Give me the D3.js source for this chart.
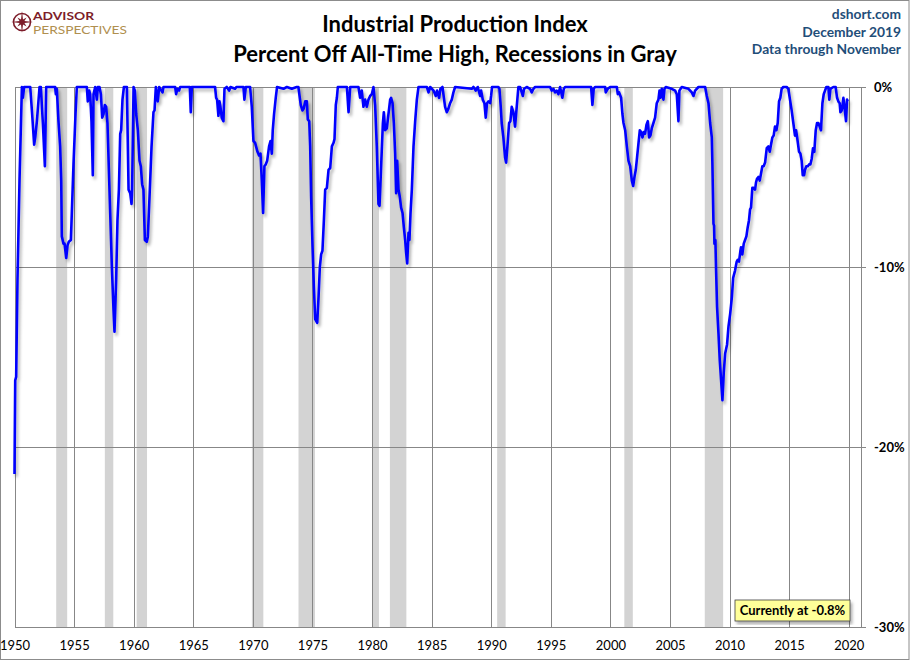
<!DOCTYPE html>
<html>
<head>
<meta charset="utf-8">
<script src="https://cdn.jsdelivr.net/npm/d3@7"></script>
<style>
  body { margin: 0; background: #fff; }
  svg { display: block; font-family: Lato, "Open Sans", sans-serif; }
</style>
</head>
<body>
<svg id="chart" width="910" height="661"></svg>
<script>
const svg = d3.select("#chart");

// plot box, in px
const LEFT = 14.5, RIGHT = 861.5, TOP = 87, BOTTOM = 627;
const GRID_COLOR = "#878787";
const LINE_COLOR = "#0000ff";

const titleLines = ["Industrial Production Index", "Percent Off All-Time High, Recessions in Gray"];
const sourceLines = ["dshort.com", "December 2019", "Data through November"];

const tickYears = [1950, 1955, 1960, 1965, 1970, 1975, 1980, 1985, 1990, 1995, 2000, 2005, 2010, 2015, 2020];
const tickPcts = [0, -10, -20, -30];

// NBER recessions (decimal years)
const recessionStarts = [1953.50, 1957.58, 1960.25, 1969.92, 1973.83, 1980.00, 1981.50, 1990.50, 2001.17, 2007.92];
const recessionEnds   = [1954.42, 1958.29, 1961.12, 1970.88, 1975.21, 1980.58, 1982.88, 1991.21, 2001.88, 2009.46];

// [decimal year, percent off all-time high]
const ipOffHigh = [
  [1950.00,-21.5],[1950.06,-16.3],[1950.14,-16.1],[1950.25,-10.7],[1950.42,-5.2],[1950.62,0],[1950.70,-0.6],[1950.81,0],
  [1951.32,0],[1951.48,-1.5],[1951.65,-3.2],[1951.74,-2.8],[1951.88,-1.9],[1952.10,0],[1952.21,0],[1952.38,-2.0],
  [1952.55,-4.4],[1952.66,0],[1953.41,0],[1953.47,-0.4],[1953.55,-0.1],[1953.69,-1.9],[1953.83,-3.3],[1953.92,-5.2],
  [1953.97,-8.3],[1954.11,-8.7],[1954.20,-8.7],[1954.34,-9.5],[1954.45,-8.8],[1954.56,-8.6],[1954.73,-8.5],[1954.81,-7.0],
  [1954.95,-4.3],[1955.12,-1.5],[1955.23,0],[1956.07,0],[1956.15,-0.8],[1956.27,-0.2],[1956.35,-0.4],[1956.46,-1.9],
  [1956.57,-4.9],[1956.63,-0.4],[1956.77,0],[1956.91,-0.7],[1956.99,0],[1957.13,0],[1957.25,-0.4],[1957.36,-1.7],
  [1957.47,-1.5],[1957.58,-1.0],[1957.69,-1.1],[1957.80,-2.0],[1958.03,-7.0],[1958.17,-10.0],[1958.31,-12.4],[1958.39,-13.6],
  [1958.53,-10.7],[1958.64,-7.4],[1958.76,-5.7],[1958.87,-2.6],[1958.95,-2.4],[1959.06,-0.7],[1959.18,0],[1959.43,0],
  [1959.57,-5.7],[1959.71,-5.9],[1959.82,-6.5],[1959.87,-5.7],[1959.99,0],[1960.10,-0.2],[1960.21,-1.5],[1960.35,-2.4],
  [1960.49,-4.1],[1960.60,-4.4],[1960.71,-5.4],[1960.82,-5.7],[1960.94,-8.5],[1961.10,-8.6],[1961.19,-8.3],[1961.33,-6.1],
  [1961.50,-3.3],[1961.66,-1.4],[1961.75,-1.3],[1961.86,0],[1962.02,-0.8],[1962.14,0],[1962.42,-0.3],[1962.50,0],
  [1963.48,0],[1963.56,-0.4],[1963.67,-0.1],[1963.81,-0.2],[1963.90,0],[1964.71,0],[1964.79,-1.4],[1964.88,0],
  [1966.83,0],[1966.92,-0.6],[1967.00,-0.7],[1967.11,-1.6],[1967.20,-0.8],[1967.28,-1.1],[1967.39,-1.7],[1967.53,-1.9],
  [1967.62,-0.1],[1967.81,0],[1968.01,-0.2],[1968.12,0],[1968.51,-0.1],[1968.62,0],[1969.21,0],[1969.29,-0.7],
  [1969.41,0],[1969.77,0],[1969.91,-1.1],[1970.05,-3.0],[1970.19,-3.1],[1970.39,-3.6],[1970.52,-3.8],[1970.64,-3.7],
  [1970.75,-5.2],[1970.86,-7.0],[1970.97,-4.4],[1971.08,-4.3],[1971.20,-4.1],[1971.36,-3.3],[1971.48,-3.0],[1971.59,-3.7],
  [1971.67,-2.4],[1971.78,-1.5],[1971.92,-0.6],[1972.03,0],[1972.57,-0.1],[1972.85,0],[1973.27,-0.1],[1973.68,0],
  [1973.82,0],[1974.02,-1.0],[1974.16,-1.3],[1974.27,-1.2],[1974.39,-0.8],[1974.53,-0.8],[1974.61,-1.8],[1974.73,-1.9],
  [1974.81,-3.3],[1974.89,-6.1],[1975.01,-8.9],[1975.12,-11.1],[1975.23,-12.9],[1975.40,-13.1],[1975.51,-11.7],[1975.62,-10.0],
  [1975.73,-9.3],[1975.84,-9.1],[1975.96,-7.4],[1976.07,-5.7],[1976.21,-5.6],[1976.35,-4.6],[1976.49,-4.5],[1976.63,-3.3],
  [1976.77,-3.1],[1976.85,-2.9],[1976.96,-1.0],[1977.05,-0.6],[1977.13,0],[1977.89,0],[1978.03,-1.4],[1978.17,0],
  [1978.86,0],[1979.00,-0.6],[1979.14,-0.2],[1979.28,-1.1],[1979.42,-0.7],[1979.56,-1.1],[1979.70,-0.7],[1979.84,-0.5],
  [1979.98,-0.4],[1980.12,0],[1980.26,-1.0],[1980.40,-3.3],[1980.54,-6.5],[1980.63,-6.6],[1980.77,-4.3],[1980.91,-2.0],
  [1980.99,-1.4],[1981.10,-2.4],[1981.24,-2.3],[1981.38,-1.5],[1981.52,-0.7],[1981.60,-0.6],[1981.72,-0.9],[1981.83,-2.0],
  [1981.94,-3.7],[1982.02,-5.9],[1982.11,-4.1],[1982.22,-5.7],[1982.33,-6.1],[1982.44,-6.7],[1982.56,-7.0],[1982.67,-7.8],
  [1982.78,-8.5],[1982.86,-9.2],[1982.95,-9.8],[1983.06,-8.1],[1983.14,-8.5],[1983.23,-7.0],[1983.34,-5.7],[1983.48,-3.3],
  [1983.62,-1.9],[1983.76,-0.7],[1983.90,0],[1984.60,0],[1984.74,-0.3],[1984.88,0],[1985.16,-0.2],[1985.35,-0.5],
  [1985.46,-0.2],[1985.63,-0.6],[1985.74,-0.1],[1985.91,0],[1986.13,-1.1],[1986.27,-1.4],[1986.41,-1.2],[1986.55,-0.9],
  [1986.69,-0.7],[1986.83,-0.3],[1986.97,0],[1988.37,-0.1],[1988.51,0],[1988.70,-0.2],[1988.87,0],[1989.07,-0.5],
  [1989.15,-0.2],[1989.29,-0.7],[1989.43,-0.9],[1989.54,-1.7],[1989.65,-0.9],[1989.77,-0.8],[1989.91,-0.9],[1989.99,-0.5],
  [1990.07,0],[1990.60,0],[1990.69,-0.1],[1990.80,-1.1],[1990.88,-2.0],[1991.02,-2.8],[1991.16,-3.9],[1991.25,-4.2],
  [1991.36,-3.3],[1991.50,-2.0],[1991.61,-1.9],[1991.72,-1.1],[1991.86,-1.4],[1992.00,-2.2],[1992.14,-1.1],[1992.28,0],
  [1992.42,0],[1992.56,-0.3],[1992.65,-0.5],[1992.76,-0.1],[1992.98,0],[1993.26,-0.1],[1993.40,-0.3],[1993.54,-0.1],
  [1993.68,0],[1994.94,0],[1995.08,-0.2],[1995.22,-0.1],[1995.36,-0.3],[1995.50,-0.2],[1995.64,-0.4],[1995.78,0],
  [1995.97,-0.6],[1996.09,-0.1],[1996.20,0],[1998.38,0],[1998.49,-1.0],[1998.60,-0.1],[1998.71,0],[1999.56,0],
  [1999.61,-0.3],[1999.78,-0.1],[1999.98,0],[2000.54,0],[2000.62,-0.4],[2000.73,-0.3],[2000.90,-0.6],[2001.01,-1.5],
  [2001.10,-2.0],[2001.24,-2.4],[2001.38,-3.3],[2001.52,-4.1],[2001.66,-4.4],[2001.80,-5.2],[2001.91,-5.5],[2002.02,-5.0],
  [2002.13,-4.6],[2002.24,-3.9],[2002.36,-3.1],[2002.47,-2.4],[2002.58,-2.5],[2002.69,-2.8],[2002.80,-2.5],[2002.91,-2.6],
  [2003.03,-2.1],[2003.14,-1.9],[2003.25,-2.8],[2003.36,-2.7],[2003.47,-2.3],[2003.61,-2.0],[2003.75,-1.7],[2003.89,-0.9],
  [2004.03,-0.7],[2004.12,-0.2],[2004.20,-0.6],[2004.31,-0.1],[2004.45,-0.7],[2004.54,-0.1],[2004.65,0],[2005.15,-0.1],
  [2005.43,-0.2],[2005.57,-0.4],[2005.71,-1.9],[2005.79,-0.2],[2005.99,0],[2006.55,-0.1],[2006.83,-0.3],[2006.97,-0.5],
  [2007.11,-0.2],[2007.39,0],[2007.95,0],[2008.09,-0.5],[2008.23,-0.9],[2008.37,-2.0],[2008.51,-2.8],[2008.56,-4.3],
  [2008.65,-7.6],[2008.70,-7.7],[2008.73,-8.7],[2008.81,-8.5],[2008.87,-10.2],[2008.95,-12.2],[2009.07,-13.7],[2009.18,-15.2],
  [2009.29,-16.3],[2009.40,-17.4],[2009.51,-15.9],[2009.63,-14.8],[2009.79,-14.3],[2009.91,-13.3],[2010.05,-12.6],[2010.19,-11.7],
  [2010.30,-10.6],[2010.46,-10.2],[2010.60,-9.7],[2010.68,-9.6],[2010.79,-9.7],[2010.91,-9.1],[2010.96,-8.9],[2011.07,-9.3],
  [2011.19,-8.7],[2011.30,-8.5],[2011.41,-8.3],[2011.52,-7.8],[2011.63,-7.4],[2011.72,-6.8],[2011.80,-6.7],[2011.91,-5.6],
  [2012.02,-5.6],[2012.14,-5.7],[2012.22,-5.3],[2012.30,-5.1],[2012.42,-5.0],[2012.53,-5.2],[2012.64,-4.8],[2012.75,-4.4],
  [2012.86,-4.4],[2012.98,-4.2],[2013.12,-3.4],[2013.26,-3.3],[2013.37,-3.6],[2013.48,-3.2],[2013.59,-2.8],[2013.70,-2.7],
  [2013.81,-2.2],[2013.93,-2.4],[2014.04,-2.0],[2014.15,-0.8],[2014.26,-0.6],[2014.37,-0.1],[2014.51,0],[2014.79,0],
  [2014.93,-0.1],[2015.07,-0.7],[2015.21,-1.3],[2015.35,-2.0],[2015.49,-2.7],[2015.58,-2.4],[2015.69,-2.9],[2015.83,-3.6],
  [2015.94,-3.7],[2016.05,-4.1],[2016.14,-4.9],[2016.25,-4.9],[2016.33,-4.6],[2016.44,-4.4],[2016.56,-4.4],[2016.67,-4.3],
  [2016.78,-4.3],[2016.89,-4.0],[2017.00,-3.4],[2017.11,-3.6],[2017.23,-2.4],[2017.34,-2.0],[2017.45,-2.0],[2017.56,-2.2],
  [2017.67,-2.4],[2017.79,-0.9],[2017.90,-0.4],[2018.01,-0.2],[2018.12,0],[2018.29,0],[2018.37,-0.7],[2018.46,-0.1],
  [2018.71,0],[2018.90,0],[2019.02,-0.6],[2019.13,-0.8],[2019.24,-0.9],[2019.30,-1.4],[2019.41,-1.3],[2019.46,-1.1],
  [2019.55,-0.6],[2019.63,-1.0],[2019.69,-1.4],[2019.77,-1.9],[2019.86,-0.7],[2019.91,-0.8]
];

let xscale = d3.scaleLinear()
            .domain([1950, 2021.07])
            .range([LEFT, RIGHT]);

let yscale = d3.scaleLinear()
            .domain([-30, 0])
            .range([BOTTOM, TOP]);


function main() {
    drawDefs();
    drawFrame();
    drawRecessions();
    drawGrid();
    drawLine();
    drawTitles();
    drawLogo();
    drawNote();
}

function drawDefs() {
    const defs = svg.append("defs");
    const f = defs.append("filter").attr("id", "shadow")
        .attr("x", "-5%").attr("y", "-5%").attr("width", "115%").attr("height", "120%");
    f.append("feDropShadow")
        .attr("dx", 2).attr("dy", 3)
        .attr("stdDeviation", 1.6)
        .attr("flood-color", "#000")
        .attr("flood-opacity", 0.3);
}

function drawFrame() {
    svg.append("rect")
        .attr("x", 0.5).attr("y", 0.5)
        .attr("width", 908.5).attr("height", 659)
        .attr("fill", "#fff")
        .attr("stroke", "#8c8c8c");
}

function drawRecessions() {
    const bands = d3.zip(recessionStarts, recessionEnds);
    svg.selectAll(".recession").data(bands).join("rect")
        .attr("class", "recession")
        .attr("x", d => xscale(d[0]))
        .attr("width", d => xscale(d[1]) - xscale(d[0]))
        .attr("y", TOP)
        .attr("height", BOTTOM - TOP)
        .attr("fill", "#d3d3d3");
}

function drawGrid() {
    // vertical gridlines + year labels
    const xAxis = d3.axisBottom(xscale)
        .tickValues(tickYears)
        .tickSize(-(BOTTOM - TOP))
        .tickPadding(14)
        .tickFormat(d3.format("d"));
    svg.append("g")
        .attr("transform", `translate(0,${BOTTOM})`)
        .call(xAxis)
        .call(g => g.select(".domain").remove())
        .call(g => g.selectAll("line").attr("stroke", GRID_COLOR).attr("shape-rendering", "crispEdges"))
        .call(g => g.selectAll("text")
            .attr("fill", "#000")
            .style("font-size", "13px")
            .style("font-family", "Lato, sans-serif"));

    // right-hand axis line
    svg.append("line")
        .attr("x1", RIGHT).attr("x2", RIGHT)
        .attr("y1", TOP).attr("y2", BOTTOM)
        .attr("stroke", GRID_COLOR)
        .attr("shape-rendering", "crispEdges");

    // horizontal gridlines + percent labels on the right
    const yAxis = d3.axisRight(yscale)
        .tickValues(tickPcts)
        .tickSize(-(RIGHT + 4 - LEFT))
        .tickPadding(8.5)
        .tickFormat(d => d + "%");
    svg.append("g")
        .attr("transform", `translate(${RIGHT + 4},0)`)
        .call(yAxis)
        .call(g => g.select(".domain").remove())
        .call(g => g.selectAll("line").attr("stroke", GRID_COLOR).attr("shape-rendering", "crispEdges"))
        .call(g => g.selectAll("text")
            .attr("fill", "#000")
            .style("font-size", "13px")
            .style("font-weight", "bold")
            .style("font-family", "Lato, sans-serif"));
}

function drawLine() {
    const line = d3.line()
        .x(d => xscale(d[0]))
        .y(d => yscale(d[1]));
    svg.append("path")
        .datum(ipOffHigh)
        .attr("d", line)
        .attr("fill", "none")
        .attr("stroke", LINE_COLOR)
        .attr("stroke-width", 2.6)
        .attr("stroke-linejoin", "round")
        .attr("filter", "url(#shadow)");
}

function drawTitles() {
    svg.selectAll(".title").data(titleLines).join("text")
        .attr("class", "title")
        .attr("x", 455)
        .attr("y", (_, i) => 32 + i * 30)
        .attr("text-anchor", "middle")
        .style("font-size", "22px")
        .style("font-weight", "bold")
        .attr("fill", "#000")
        .text(d => d);

    svg.selectAll(".source").data(sourceLines).join("text")
        .attr("class", "source")
        .attr("x", 901)
        .attr("y", (_, i) => 19 + i * 17.5)
        .attr("text-anchor", "end")
        .style("font-size", "13.8px")
        .style("font-weight", "bold")
        .attr("fill", "#1f4e79")
        .text(d => d);
}

function drawLogo() {
    const g = svg.append("g").attr("transform", "translate(22,22)");
    const red = "#7d1d2a";
    g.append("circle").attr("r", 8.5).attr("fill", "none").attr("stroke", red).attr("stroke-width", 1.6);
    // eight pointed compass star
    const pts = [];
    for (let i = 0; i < 16; i++) {
        const a = i * Math.PI / 8 - Math.PI / 2;
        const r = i % 4 === 0 ? 11 : (i % 2 === 0 ? 6.5 : 2.6);
        pts.push([r * Math.cos(a), r * Math.sin(a)]);
    }
    g.append("path").attr("d", d3.line()(pts) + "Z").attr("fill", red);

    svg.append("text")
        .attr("x", 33).attr("y", 19.5)
        .attr("textLength", 61)
        .attr("lengthAdjust", "spacingAndGlyphs")
        .style("font-size", "11.5px")
        .style("font-weight", "bold")
        .attr("fill", red)
        .text("ADVISOR");
    svg.append("text")
        .attr("x", 33).attr("y", 33.5)
        .attr("textLength", 94)
        .attr("lengthAdjust", "spacingAndGlyphs")
        .style("font-size", "11.5px")
        .attr("fill", "#b08f4f")
        .text("PERSPECTIVES");
}

function drawNote() {
    const last = ipOffHigh[ipOffHigh.length - 1][1];
    const g = svg.append("g");
    g.append("rect")
        .attr("x", 735).attr("y", 600)
        .attr("width", 115).attr("height", 21)
        .attr("fill", "#ffff99")
        .attr("stroke", "#404040")
        .attr("stroke-width", 0.8)
        .attr("filter", "url(#shadow)");
    g.append("text")
        .attr("x", 792.5).attr("y", 615)
        .attr("text-anchor", "middle")
        .style("font-size", "13px")
        .style("font-weight", "bold")
        .attr("fill", "#000")
        .text("Currently at " + last.toFixed(1) + "%");
}


main();
</script>
</body>
</html>
